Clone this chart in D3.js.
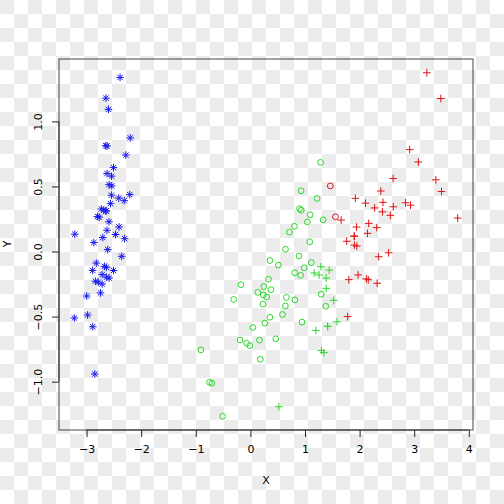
<!DOCTYPE html>
<html>
<head>
<meta charset="utf-8">
<script src="https://cdn.jsdelivr.net/npm/d3@7"></script>
<style>
  body { margin: 0; background: #fff; }
  svg text { font-family: "DejaVu Sans", sans-serif; font-size: 11px; fill: #000; }
</style>
</head>
<body>
<script>
// points, [X, Y]
const setosaBlue = [
  [-2.684, 0.319], [-2.714, -0.177], [-2.889, -0.145], [-2.745, -0.318], [-2.729, 0.327],
  [-2.281, 0.741], [-2.821, -0.089], [-2.626, 0.163], [-2.886, -0.578], [-2.673, -0.114],
  [-2.507, 0.645], [-2.613, 0.015], [-2.786, -0.235], [-3.224, -0.511], [-2.645, 1.179],
  [-2.386, 1.338], [-2.624, 0.811], [-2.648, 0.312], [-2.200, 0.873], [-2.588, 0.514],
  [-2.310, 0.391], [-2.544, 0.433], [-3.216, 0.133], [-2.303, 0.099], [-2.356, -0.037],
  [-2.507, -0.146], [-2.469, 0.131], [-2.562, 0.368], [-2.640, 0.312], [-2.632, -0.197],
  [-2.587, -0.204], [-2.410, 0.411], [-2.649, 0.813], [-2.599, 1.093], [-2.637, -0.121],
  [-2.866, 0.069], [-2.625, 0.599], [-2.801, 0.269], [-2.981, -0.488], [-2.590, 0.229],
  [-2.770, 0.264], [-2.849, -0.941], [-2.997, -0.342], [-2.406, 0.189], [-2.209, 0.437],
  [-2.714, -0.250], [-2.538, 0.504], [-2.839, -0.228], [-2.543, 0.579], [-2.703, 0.108]
];
const versicolorGreen = [
  [1.285, 0.685], [0.932, 0.318], [0.183, -0.828], [1.088, 0.075],
  [0.642, -0.418], [1.095, 0.283], [-0.749, -1.005], [1.044, 0.228], [-0.009, -0.723],
  [-0.508, -1.266], [0.512, -0.104], [0.265, -0.550], [0.985, -0.125], [-0.174, -0.255],
  [0.928, 0.467], [0.660, -0.353], [0.236, -0.334], [0.945, -0.543], [0.045, -0.584],
  [1.116, -0.085], [0.358, -0.069], [1.298, -0.328], [0.922, -0.183], [0.715, 0.149],
  [0.900, 0.329], [1.332, 0.244], [0.813, -0.163], [-0.306, -0.368],
  [-0.068, -0.705], [-0.190, -0.680], [0.136, -0.314], [1.380, -0.421], [0.588, -0.484],
  [0.807, 0.194], [1.221, 0.408], [0.815, -0.372], [0.246, -0.269], [0.166, -0.682],
  [0.465, -0.671], [0.891, -0.034], [0.231, -0.404], [-0.705, -1.012], [0.357, -0.505],
  [0.332, -0.213], [0.376, -0.293], [0.643, 0.018], [-0.906, -0.756], [0.299, -0.349]
];
const versicolorRed = [[1.464, 0.504], [1.558, 0.267]];
const virginicaRed = [
  [2.531, -0.010], [2.617, 0.344], [1.972, -0.180], [2.350, -0.040], [3.397, 0.551],
  [2.933, 0.356], [2.321, -0.244], [2.917, 0.783], [1.662, 0.242], [1.803, -0.216],
  [2.166, 0.216], [1.904, 0.119], [1.950, 0.042], [3.487, 1.176], [3.796, 0.257],
  [2.428, 0.378], [3.500, 0.461], [2.275, 0.335], [2.614, 0.561], [2.124, -0.210],
  [2.388, 0.465], [2.842, 0.375], [3.231, 1.374], [2.159, -0.217], [1.781, -0.500],
  [3.076, 0.688], [2.144, 0.140], [1.905, 0.049], [2.108, 0.372], [2.314, 0.184],
  [1.922, 0.409], [2.563, 0.278], [2.419, 0.305], [1.944, 0.188], [1.764, 0.079],
  [1.901, 0.117]
];
const virginicaGreen = [
  [1.415, -0.575], [0.521, -1.193], [1.346, -0.777], [1.586, -0.540], [1.301, -0.761],
  [1.199, -0.606], [1.389, -0.204], [1.259, -0.180], [1.291, -0.117], [1.444, -0.143],
  [1.169, -0.165], [1.415, -0.575], [1.527, -0.375], [1.390, -0.283]
];
const xTicks = [-3, -2, -1, 0, 1, 2, 3, 4];
const yTicks = [-1.0, -0.5, 0.0, 0.5, 1.0];
const xTitle = "X", yTitle = "Y";

const width = 504, height = 504,
      mLeft = 59, mRight = 473, mTop = 59, mBottom = 430;

const svg = d3.select("body").append("svg")
  .attr("width", width)
  .attr("height", height);

// checkerboard backdrop
const cell = 14;
const pat = svg.append("defs").append("pattern")
  .attr("id", "checker")
  .attr("width", cell * 2).attr("height", cell * 2)
  .attr("patternUnits", "userSpaceOnUse");
pat.append("rect").attr("width", cell * 2).attr("height", cell * 2).attr("fill", "#ffffff");
pat.append("rect").attr("width", cell).attr("height", cell).attr("fill", "#ececec");
pat.append("rect").attr("x", cell).attr("y", cell).attr("width", cell).attr("height", cell).attr("fill", "#ececec");
svg.append("rect").attr("width", width).attr("height", height).attr("fill", "url(#checker)");

// R-style 4% padding around the data range
const all = setosaBlue.concat(versicolorGreen, versicolorRed, virginicaRed, virginicaGreen);
const pad = ext => { const r = ext[1] - ext[0]; return [ext[0] - 0.04 * r, ext[1] + 0.04 * r]; };
const x = d3.scaleLinear().domain(pad(d3.extent(all, d => d[0]))).range([mLeft, mRight]);
const y = d3.scaleLinear().domain(pad(d3.extent(all, d => d[1]))).range([mBottom, mTop]);

// axes
const xAxis = svg.append("g")
  .attr("transform", "translate(0," + mBottom + ")")
  .call(d3.axisBottom(x).tickValues(xTicks).tickFormat(d3.format("d")).tickSize(7).tickPadding(8));
const yAxis = svg.append("g")
  .attr("transform", "translate(" + mLeft + ",0)")
  .call(d3.axisLeft(y).tickValues(yTicks).tickFormat(d3.format(".1f")).tickSize(7).tickPadding(0));
[xAxis, yAxis].forEach(g => {
  g.select(".domain").remove();
  g.selectAll("line").attr("stroke", "#222");
  g.selectAll("text").attr("font-size", null).attr("font-family", null);
});
yAxis.selectAll("text")
  .attr("x", null).attr("dy", null)
  .attr("text-anchor", "middle")
  .attr("transform", "translate(-17,0) rotate(-90)")
  .attr("y", 0);
xAxis.selectAll("text").attr("dy", "0.71em");

svg.append("line")
  .attr("x1", x(xTicks[0])).attr("x2", x(xTicks[xTicks.length - 1]))
  .attr("y1", mBottom).attr("y2", mBottom).attr("stroke", "#222");
svg.append("line")
  .attr("y1", y(yTicks[0])).attr("y2", y(yTicks[yTicks.length - 1]))
  .attr("x1", mLeft).attr("x2", mLeft).attr("stroke", "#222");

svg.append("rect")
  .attr("x", mLeft).attr("y", mTop)
  .attr("width", mRight - mLeft).attr("height", mBottom - mTop)
  .attr("fill", "none").attr("stroke", "#444");

svg.append("text").attr("x", 266).attr("y", 484).attr("text-anchor", "middle").text(xTitle);
svg.append("text").attr("transform", "translate(11,244) rotate(-90)").attr("text-anchor", "middle").text(yTitle);

// point glyphs (R pch 1, 3, 8)
const R = 2.7, R2 = R * Math.SQRT2;
const shapes = {
  plus: () => "M" + (-R2) + ",0H" + R2 + "M0," + (-R2) + "V" + R2,
  star: () => "M" + (-R2) + ",0H" + R2 + "M0," + (-R2) + "V" + R2 +
              "M" + (-R) + "," + (-R) + "L" + R + "," + R + "M" + (-R) + "," + R + "L" + R + "," + (-R)
};
const blue = "#1a1aee", green = "#2ad82a", red = "#e01414";

function drawSet(data, shape, color) {
  const g = svg.append("g");
  if (shape === "circle") {
    g.selectAll("circle").data(data).enter().append("circle")
      .attr("cx", d => x(d[0])).attr("cy", d => y(d[1]))
      .attr("r", R + 0.2).attr("fill", "none").attr("stroke", color).attr("stroke-width", 1);
  } else {
    g.selectAll("path").data(data).enter().append("path")
      .attr("transform", d => "translate(" + x(d[0]) + "," + y(d[1]) + ")")
      .attr("d", shapes[shape]()).attr("fill", "none").attr("stroke", color).attr("stroke-width", 1);
  }
}

drawSet(setosaBlue, "star", blue);
drawSet(versicolorGreen, "circle", green);
drawSet(versicolorRed, "circle", red);
drawSet(virginicaRed, "plus", red);
drawSet(virginicaGreen, "plus", green);
</script>
</body>
</html>
